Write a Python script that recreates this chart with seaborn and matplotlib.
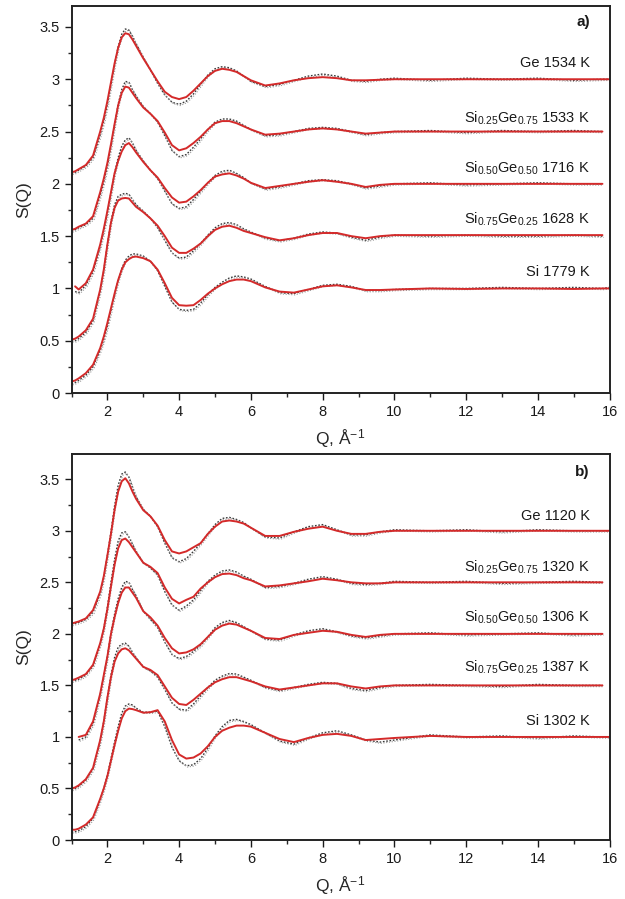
import numpy as np
import pandas as pd
import matplotlib
matplotlib.use("Agg")
import matplotlib.pyplot as plt
import seaborn as sns
from matplotlib.ticker import MultipleLocator, FuncFormatter

nan = np.nan

# ---------------- data ----------------
Q = [1.0, 1.1, 1.2, 1.4, 1.6, 1.8, 1.9, 2.0, 2.1, 2.2, 2.3, 2.4, 2.5, 2.6, 2.7, 2.8,
     3.0, 3.2, 3.4, 3.6, 3.8, 4.0, 4.2, 4.4, 4.6, 4.8, 5.0, 5.2, 5.4, 5.6, 5.8, 6.0,
     6.4, 6.8, 7.2, 7.6, 8.0, 8.4, 8.8, 9.2, 9.6, 10.0, 11.0, 12.0, 13.0, 14.0, 15.0, 15.8, 16.0]

offsets = [2.0, 1.5, 1.0, 0.5, 0.0]

labels_a = ["Ge 1534 K", "Si$_{0.25}$Ge$_{0.75}$ 1533 K", "Si$_{0.50}$Ge$_{0.50}$ 1716 K",
            "Si$_{0.75}$Ge$_{0.25}$ 1628 K", "Si 1779 K"]
labels_b = ["Ge 1120 K", "Si$_{0.25}$Ge$_{0.75}$ 1320 K", "Si$_{0.50}$Ge$_{0.50}$ 1306 K",
            "Si$_{0.75}$Ge$_{0.25}$ 1387 K", "Si 1302 K"]
label_y_a = [3.16, 2.63, 2.15, 1.66, 1.16]
label_y_b = [3.14, 2.65, 2.165, 1.68, 1.15]

# ---- panel a) model (red) ----
ge_a_mod = [0.11, 0.12, 0.14, 0.18, 0.27, 0.50, 0.63, 0.79, 0.97, 1.15, 1.30, 1.40, 1.44, 1.43, 1.38, 1.32,
            1.20, 1.09, 0.98, 0.88, 0.83, 0.81, 0.83, 0.89, 0.96, 1.03, 1.08, 1.10, 1.09, 1.07, 1.03, 0.99,
            0.94, 0.96, 0.99, 1.01, 1.02, 1.01, 0.99, 0.99, 0.995, 1.0, 1.0, 1.0, 1.0, 1.0, 1.0, 1.0, 1.0]
si25_a_mod = [0.06, 0.07, 0.09, 0.12, 0.19, 0.42, 0.55, 0.70, 0.88, 1.07, 1.25, 1.37, 1.43, 1.42, 1.37, 1.32,
              1.23, 1.17, 1.10, 0.99, 0.87, 0.82, 0.84, 0.89, 0.95, 1.02, 1.08, 1.10, 1.10, 1.08, 1.05, 1.02,
              0.97, 0.98, 1.0, 1.02, 1.03, 1.02, 1.0, 0.98, 0.99, 1.0, 1.0, 1.0, 1.0, 1.0, 1.0, 1.0, nan]
si50_a_mod = [nan, 0.02, -0.01, 0.05, 0.18, 0.42, 0.57, 0.74, 0.92, 1.10, 1.22, 1.31, 1.37, 1.39, 1.35, 1.30,
              1.21, 1.13, 1.06, 0.96, 0.87, 0.82, 0.83, 0.88, 0.94, 1.01, 1.07, 1.09, 1.10, 1.08, 1.05, 1.01,
              0.96, 0.98, 1.0, 1.02, 1.035, 1.02, 1.0, 0.97, 0.99, 1.0, 1.0, 1.0, 1.0, 1.0, 1.0, 1.0, nan]
si75_a_mod = [0.01, 0.02, 0.04, 0.10, 0.21, 0.49, 0.68, 0.92, 1.13, 1.27, 1.34, 1.36, 1.365, 1.36, 1.32, 1.28,
              1.23, 1.17, 1.10, 1.0, 0.89, 0.84, 0.84, 0.88, 0.93, 1.0, 1.06, 1.09, 1.10, 1.08, 1.05, 1.03,
              0.99, 0.96, 0.98, 1.01, 1.03, 1.03, 1.0, 0.98, 1.0, 1.01, 1.01, 1.01, 1.01, 1.01, 1.01, 1.01, nan]
si_a_mod = [0.11, 0.12, 0.14, 0.19, 0.27, 0.43, 0.54, 0.67, 0.81, 0.95, 1.08, 1.18, 1.25, 1.28, 1.30, 1.305,
            1.29, 1.26, 1.18, 1.05, 0.91, 0.84, 0.835, 0.84, 0.89, 0.95, 1.0, 1.04, 1.07, 1.085, 1.085, 1.07,
            1.01, 0.97, 0.96, 0.99, 1.02, 1.03, 1.01, 0.985, 0.985, 0.99, 1.0, 0.995, 1.0, 1.0, 0.995, 1.0, 1.0]

# ---- panel a) experiment (dotted) ----
ge_a_exp = [0.10, 0.11, 0.13, 0.17, 0.25, 0.47, 0.60, 0.76, 0.95, 1.14, 1.31, 1.43, 1.48, 1.47, 1.41, 1.34,
            1.21, 1.09, 0.96, 0.85, 0.78, 0.76, 0.79, 0.86, 0.95, 1.04, 1.10, 1.12, 1.11, 1.08, 1.03, 0.98,
            0.93, 0.95, 0.99, 1.03, 1.05, 1.03, 0.99, 0.98, 1.0, 1.01, 0.99, 1.01, 1.0, 1.01, 0.99, 1.0, 1.0]
si25_a_exp = [0.05, 0.06, 0.08, 0.11, 0.17, 0.39, 0.52, 0.67, 0.86, 1.06, 1.26, 1.40, 1.48, 1.47, 1.40, 1.34,
              1.24, 1.17, 1.09, 0.96, 0.82, 0.76, 0.78, 0.85, 0.93, 1.02, 1.09, 1.12, 1.12, 1.10, 1.06, 1.02,
              0.96, 0.97, 1.0, 1.03, 1.04, 1.03, 1.0, 0.97, 0.99, 1.0, 1.01, 0.99, 1.01, 1.0, 1.01, 1.0, nan]
si50_a_exp = [nan, -0.03, -0.04, 0.03, 0.16, 0.40, 0.55, 0.72, 0.91, 1.10, 1.25, 1.36, 1.42, 1.44, 1.39, 1.32,
              1.22, 1.13, 1.05, 0.93, 0.81, 0.765, 0.78, 0.85, 0.93, 1.01, 1.08, 1.12, 1.13, 1.10, 1.06, 1.01,
              0.95, 0.97, 1.0, 1.03, 1.04, 1.03, 1.0, 0.96, 0.98, 1.0, 1.01, 0.99, 1.0, 1.01, 1.0, 1.0, nan]
si75_a_exp = [0.0, 0.0, 0.02, 0.08, 0.19, 0.48, 0.67, 0.92, 1.14, 1.30, 1.38, 1.40, 1.41, 1.40, 1.35, 1.30,
              1.24, 1.17, 1.08, 0.96, 0.84, 0.79, 0.80, 0.86, 0.93, 1.01, 1.08, 1.12, 1.13, 1.11, 1.07, 1.04,
              0.98, 0.955, 0.98, 1.02, 1.04, 1.03, 0.99, 0.96, 0.99, 1.01, 1.0, 1.01, 1.0, 1.0, 1.01, 1.0, nan]
si_a_exp = [0.09, 0.10, 0.12, 0.17, 0.25, 0.41, 0.51, 0.64, 0.79, 0.94, 1.08, 1.19, 1.27, 1.31, 1.33, 1.33,
            1.31, 1.26, 1.17, 1.02, 0.87, 0.80, 0.79, 0.80, 0.86, 0.94, 1.01, 1.06, 1.10, 1.12, 1.11, 1.09,
            1.02, 0.96, 0.95, 0.99, 1.03, 1.04, 1.02, 0.98, 0.98, 0.99, 1.0, 1.0, 1.01, 1.0, 1.01, 1.0, 1.01]

# ---- panel b) model (red) ----
ge_b_mod = [0.10, 0.11, 0.12, 0.15, 0.23, 0.41, 0.56, 0.76, 0.97, 1.20, 1.38, 1.48, 1.51, 1.46, 1.38, 1.31,
            1.20, 1.14, 1.05, 0.91, 0.80, 0.78, 0.80, 0.84, 0.88, 0.97, 1.04, 1.09, 1.10, 1.09, 1.07, 1.03,
            0.95, 0.95, 0.99, 1.02, 1.04, 1.0, 0.97, 0.97, 0.99, 1.0, 1.0, 1.0, 1.0, 1.0, 1.0, 1.0, 1.0]
si25_b_mod = [0.05, 0.06, 0.075, 0.11, 0.20, 0.41, 0.55, 0.74, 0.96, 1.17, 1.33, 1.41, 1.425, 1.39, 1.34, 1.29,
              1.19, 1.15, 1.09, 0.95, 0.84, 0.795, 0.83, 0.86, 0.94, 1.0, 1.05, 1.08, 1.085, 1.07, 1.04, 1.02,
              0.96, 0.97, 0.99, 1.01, 1.035, 1.02, 1.0, 0.99, 0.99, 1.0, 1.0, 1.0, 1.0, 1.0, 1.0, 1.0, nan]
si50_b_mod = [nan, nan, 0.0, 0.02, 0.15, 0.42, 0.60, 0.78, 1.0, 1.16, 1.30, 1.40, 1.45, 1.45, 1.40, 1.35,
              1.22, 1.16, 1.08, 0.96, 0.86, 0.81, 0.82, 0.85, 0.90, 0.97, 1.04, 1.08, 1.10, 1.09, 1.06, 1.03,
              0.96, 0.95, 0.99, 1.01, 1.03, 1.02, 0.99, 0.97, 0.99, 1.0, 1.0, 1.0, 1.0, 1.0, 1.0, 1.0, nan]
si75_b_mod = [0.0, 0.01, 0.03, 0.09, 0.20, 0.47, 0.65, 0.88, 1.08, 1.23, 1.31, 1.35, 1.36, 1.34, 1.30, 1.26,
              1.18, 1.15, 1.10, 0.99, 0.88, 0.82, 0.81, 0.86, 0.92, 0.98, 1.03, 1.06, 1.08, 1.08, 1.06, 1.04,
              0.99, 0.96, 0.98, 1.0, 1.02, 1.02, 0.99, 0.97, 0.99, 1.0, 1.0, 1.0, 1.0, 1.0, 1.0, 1.0, nan]
si_b_mod = [0.10, 0.10, 0.11, 0.15, 0.22, 0.40, 0.50, 0.62, 0.77, 0.92, 1.06, 1.18, 1.25, 1.275, 1.27, 1.26,
            1.235, 1.24, 1.26, 1.15, 0.97, 0.83, 0.79, 0.80, 0.84, 0.91, 1.0, 1.06, 1.09, 1.11, 1.11, 1.10,
            1.04, 0.98, 0.95, 0.99, 1.02, 1.03, 1.01, 0.97, 0.98, 0.99, 1.01, 1.0, 1.0, 1.0, 1.0, 1.0, 1.0]

# ---- panel b) experiment (dotted) ----
ge_b_exp = [0.09, 0.10, 0.11, 0.14, 0.21, 0.39, 0.55, 0.76, 0.99, 1.24, 1.44, 1.55, 1.57, 1.52, 1.42, 1.33,
            1.21, 1.14, 1.04, 0.88, 0.74, 0.70, 0.73, 0.80, 0.88, 0.97, 1.06, 1.12, 1.13, 1.11, 1.08, 1.03,
            0.94, 0.93, 0.99, 1.04, 1.06, 1.01, 0.96, 0.96, 0.99, 1.01, 1.0, 1.01, 0.99, 1.01, 1.0, 1.0, 1.0]
si25_b_exp = [0.04, 0.05, 0.06, 0.10, 0.19, 0.40, 0.55, 0.76, 1.0, 1.22, 1.40, 1.48, 1.49, 1.44, 1.37, 1.30,
              1.19, 1.14, 1.07, 0.91, 0.78, 0.73, 0.77, 0.83, 0.92, 1.01, 1.07, 1.11, 1.12, 1.10, 1.06, 1.03,
              0.95, 0.96, 0.99, 1.03, 1.055, 1.03, 0.99, 0.98, 0.99, 1.01, 1.0, 1.01, 0.99, 1.0, 1.01, 1.0, nan]
si50_b_exp = [nan, nan, -0.03, 0.0, 0.13, 0.41, 0.59, 0.78, 1.01, 1.19, 1.34, 1.45, 1.51, 1.50, 1.43, 1.37,
              1.22, 1.14, 1.06, 0.92, 0.80, 0.76, 0.78, 0.83, 0.89, 0.97, 1.06, 1.11, 1.13, 1.11, 1.07, 1.03,
              0.95, 0.94, 0.99, 1.03, 1.05, 1.02, 0.98, 0.96, 0.98, 1.0, 1.01, 0.99, 1.0, 1.01, 0.99, 1.0, nan]
si75_b_exp = [-0.01, 0.0, 0.02, 0.08, 0.19, 0.46, 0.65, 0.88, 1.10, 1.27, 1.37, 1.40, 1.41, 1.38, 1.32, 1.27,
              1.18, 1.14, 1.08, 0.96, 0.83, 0.77, 0.76, 0.82, 0.90, 0.98, 1.05, 1.09, 1.115, 1.11, 1.08, 1.05,
              0.98, 0.95, 0.98, 1.01, 1.03, 1.02, 0.97, 0.95, 0.98, 1.0, 1.01, 1.0, 0.99, 1.01, 1.0, 1.0, nan]
si_b_exp = [0.08, 0.08, 0.09, 0.13, 0.21, 0.39, 0.50, 0.63, 0.79, 0.95, 1.10, 1.23, 1.30, 1.32, 1.31, 1.28,
            1.24, 1.24, 1.25, 1.10, 0.90, 0.77, 0.72, 0.73, 0.79, 0.89, 1.01, 1.10, 1.16, 1.17, 1.15, 1.12,
            1.04, 0.96, 0.93, 0.99, 1.04, 1.06, 1.02, 0.97, 0.95, 0.97, 1.02, 1.0, 1.01, 0.99, 1.01, 1.0, 1.0]

model_a = [ge_a_mod, si25_a_mod, si50_a_mod, si75_a_mod, si_a_mod]
exp_a = [ge_a_exp, si25_a_exp, si50_a_exp, si75_a_exp, si_a_exp]
model_b = [ge_b_mod, si25_b_mod, si50_b_mod, si75_b_mod, si_b_mod]
exp_b = [ge_b_exp, si25_b_exp, si50_b_exp, si75_b_exp, si_b_exp]

# ---------------- style ----------------
sns.set_theme(style="ticks")
plt.rcParams["font.family"] = ["Liberation Sans", "DejaVu Sans"]
plt.rcParams["mathtext.fontset"] = "custom"
plt.rcParams["mathtext.rm"] = "Liberation Sans"
plt.rcParams["mathtext.it"] = "Liberation Sans"
plt.rcParams["mathtext.default"] = "regular"

fig = plt.figure(figsize=(6.25, 8.99), dpi=100)
ax_a = fig.add_axes([0.1144, 0.5628, 0.861, 0.4305])
ax_b = fig.add_axes([0.1144, 0.0656, 0.861, 0.4294])

red = "#d42a2a"
dark = "#3a3a3a"


def draw_panel(ax, models, exps, labels, label_y, tag, ytop):
    Qa = np.array(Q)
    for mod, ex, off in zip(models, exps, offsets):
        ex = np.array(ex, dtype=float)
        m = ~np.isnan(ex)
        df = pd.DataFrame({"Q": Qa[m], "S": ex[m] + off})
        sns.lineplot(data=df, x="Q", y="S", ax=ax, color=dark, lw=1.0,
                     linestyle=(0, (1.2, 1.2)), estimator=None, sort=False)
        sns.lineplot(x=Qa[m] + 0.03, y=ex[m] + off - 0.012, ax=ax, color="#9a9a9a", lw=0.8,
                     linestyle=(0, (1, 1.5)), estimator=None, sort=False)
        mod = np.array(mod, dtype=float)
        m2 = ~np.isnan(mod)
        sns.lineplot(x=Qa[m2], y=mod[m2] + off, ax=ax, color=red, lw=1.4,
                     estimator=None, sort=False)
    for lab, yy in zip(labels, label_y):
        ax.text(15.45, yy, lab, ha="right", va="center", fontsize=10.5, color="#1a1a1a")
    ax.text(15.45, 3.55 if tag == "a)" else 3.57, tag, ha="right", va="center",
            fontsize=11, fontweight="bold", color="#1a1a1a")
    ax.set_xlim(1, 16)
    ax.set_ylim(0, ytop)
    ax.xaxis.set_major_locator(MultipleLocator(2))
    ax.xaxis.set_minor_locator(MultipleLocator(1))
    ax.yaxis.set_major_locator(MultipleLocator(0.5))
    ax.yaxis.set_minor_locator(MultipleLocator(0.25))
    ax.yaxis.set_major_formatter(FuncFormatter(lambda v, p: f"{v:g}"))
    ax.tick_params(axis="both", which="major", direction="out", length=5, width=1.0,
                   labelsize=10.5, colors="#1a1a1a")
    ax.tick_params(axis="both", which="minor", direction="out", length=3, width=1.0)
    for sp in ax.spines.values():
        sp.set_visible(True)
        sp.set_linewidth(1.4)
        sp.set_color("#222222")
    ax.set_xlabel("Q, Å$^{-1}$", fontsize=12.5, labelpad=6)
    ax.set_ylabel("S(Q)", fontsize=12.5, labelpad=6)


draw_panel(ax_a, model_a, exp_a, labels_a, label_y_a, "a)", 3.70)
draw_panel(ax_b, model_b, exp_b, labels_b, label_y_b, "b)", 3.745)

fig.savefig("out.png", dpi=100)
